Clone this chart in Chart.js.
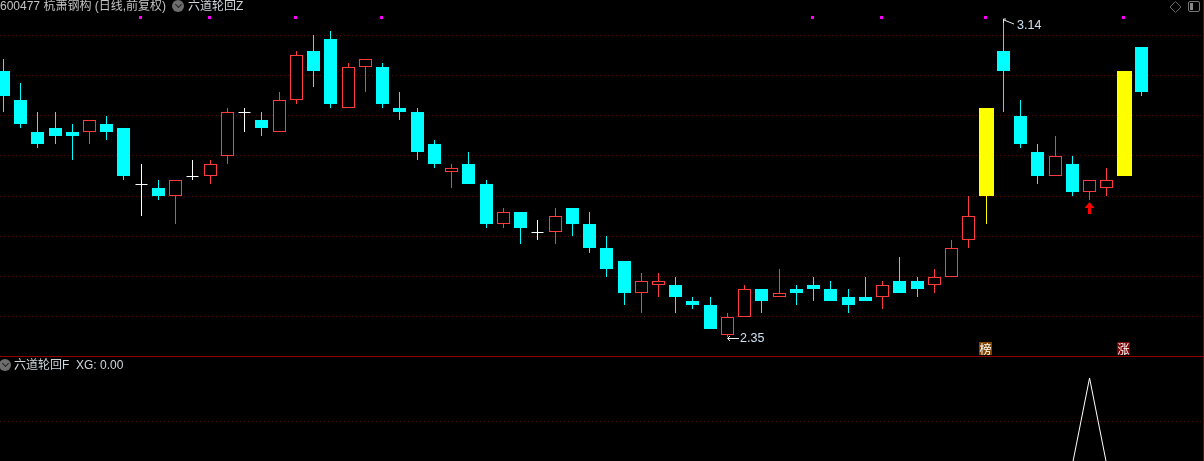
<!DOCTYPE html>
<html><head><meta charset="utf-8">
<script src="https://cdn.jsdelivr.net/npm/chart.js@4/dist/chart.umd.min.js"></script>
<style>
html,body{margin:0;padding:0;background:#000;overflow:hidden}
#wrap{position:relative;width:1204px;height:461px;background:#000}
#top{position:absolute;left:0;top:0;width:1203px;height:356px}
#bot{position:absolute;left:0;top:357px;width:1203px;height:104px}
#sep{position:absolute;left:0;top:356px;width:1204px;height:1px;background:#8c0000}
#edge{position:absolute;left:1203px;top:0;width:1px;height:461px;background:#8c0000}
.t{position:absolute;white-space:nowrap;font:12px "Liberation Sans","Noto Sans CJK SC",sans-serif;line-height:14px;color:#cfd6dc}
.c{position:absolute;width:12px;height:12px;border-radius:50%;background:#6e6e6e}
.c:after{content:"";position:absolute;left:3.5px;top:2px;width:4px;height:4px;border-right:1px solid #222;border-bottom:1px solid #222;transform:rotate(45deg)}
</style></head><body>
<div id="wrap">
<canvas id="top" width="1203" height="356"></canvas><canvas id="bot" width="1203" height="104"></canvas>
<div id="sep"></div><div id="edge"></div>
<div class="t" style="left:0;top:-1px;color:#c4c4c4">600477 杭萧钢构 (日线,前复权)</div>
<div class="c" style="left:172px;top:0px"></div>
<div class="t" style="left:188px;top:-1px">六道轮回Z</div>
<div class="c" style="left:-1px;top:359px"></div>
<div class="t" style="left:14px;top:358px">六道轮回F&nbsp; XG: 0.00</div>
<svg style="position:absolute;left:1168px;top:0" width="36" height="14">
<path d="M7.5 1.5 L13 7 L7.5 12.5 L2 7 Z" fill="none" stroke="#666"/>
<rect x="20.5" y="1.5" width="11" height="10" rx="1.5" fill="none" stroke="#777"/><rect x="22" y="3" width="3" height="7" fill="#888"/>
</svg>
</div>
<script>
const opens=[3.01,2.94,2.86,2.87,2.86,2.86,2.88,2.87,2.73,2.72,2.70,2.75,2.75,2.80,2.91,2.89,2.86,2.94,3.06,3.09,2.92,3.02,3.02,2.92,2.91,2.83,2.76,2.78,2.73,2.63,2.66,2.61,2.61,2.67,2.63,2.57,2.54,2.46,2.48,2.48,2.44,2.43,2.355,2.40,2.47,2.45,2.47,2.48,2.47,2.45,2.45,2.45,2.49,2.49,2.48,2.50,2.59,2.70,3.06,2.90,2.81,2.75,2.78,2.71,2.72,2.75,3.07];
const closes=[2.95,2.88,2.83,2.85,2.85,2.89,2.86,2.75,2.73,2.70,2.74,2.75,2.78,2.91,2.91,2.87,2.94,3.05,3.01,2.93,3.02,3.04,2.93,2.91,2.81,2.78,2.77,2.73,2.63,2.66,2.62,2.61,2.65,2.63,2.57,2.52,2.46,2.49,2.49,2.45,2.43,2.37,2.40,2.47,2.44,2.46,2.46,2.47,2.44,2.43,2.44,2.48,2.46,2.47,2.50,2.57,2.65,2.92,3.01,2.83,2.75,2.80,2.71,2.74,2.74,3.01,2.96];
const highs=[3.04,2.98,2.91,2.91,2.88,2.89,2.90,2.87,2.78,2.74,2.74,2.79,2.79,2.92,2.92,2.91,2.96,3.06,3.10,3.11,3.03,3.04,3.03,2.96,2.92,2.84,2.78,2.81,2.74,2.67,2.66,2.64,2.67,2.67,2.66,2.60,2.54,2.51,2.51,2.50,2.45,2.45,2.41,2.48,2.47,2.52,2.48,2.50,2.49,2.47,2.50,2.49,2.55,2.50,2.52,2.59,2.70,2.92,3.14,2.94,2.83,2.85,2.80,2.74,2.77,3.01,3.07];
const lows=[2.91,2.87,2.82,2.83,2.79,2.83,2.84,2.74,2.65,2.69,2.63,2.74,2.73,2.78,2.86,2.85,2.86,2.93,2.97,2.92,2.92,2.96,2.92,2.89,2.79,2.77,2.72,2.73,2.62,2.62,2.58,2.59,2.58,2.60,2.56,2.50,2.43,2.41,2.45,2.41,2.42,2.37,2.35,2.40,2.41,2.45,2.43,2.44,2.44,2.41,2.44,2.42,2.46,2.45,2.46,2.50,2.57,2.63,2.91,2.82,2.73,2.75,2.70,2.69,2.70,2.75,2.95];
const limitUpDays=[57,65];
const signalDays=[8,12,17,22,47,51,57,65];
const signalLevel=[3.143];
const gridPrices=[3.1,3.0,2.9,2.8,2.7,2.6,2.5,2.4];
const xgValues=[0,0,0,0,0,0,0,0,0,0,0,0,0,0,0,0,0,0,0,0,0,0,0,0,0,0,0,0,0,0,0,0,0,0,0,0,0,0,0,0,0,0,0,0,0,0,0,0,0,0,0,0,0,0,0,0,0,0,0,0,0,0,0,1,0,0,0];
const xgGrid=[0.5];
const highLabel="3.14", lowLabel="2.35";
const arrowDay=63, badges=[{day:57,text:"榜",color:"#7f4500"},{day:65,text:"涨",color:"#7d0000"}];

const CYAN="#00ffff",RED="#ff3c3c",WHITE="#ffffff",YELLOW="#ffff00",GRID="#4c0e0e";
const isLimit=i=>limitUpDays.includes(i);
const kind=i=>isLimit(i)?"limit":closes[i]>opens[i]?"rise":closes[i]<opens[i]?"fall":"doji";
const colorOf={limit:YELLOW,rise:RED,fall:CYAN,doji:WHITE};
const idx=opens.map((_,i)=>i);
const body=k=>idx.filter(i=>kind(i)===k).map(i=>({x:i,y:[opens[i],closes[i]]}));
const xRange={min:-0.191,max:69.58};
Chart.defaults.animation=false;

/* keeps every bar and signal square on whole pixels so that they stay crisp */
const crisp={id:"crisp",beforeDatasetsDraw(c){
 c.data.datasets.forEach((d,n)=>{const m=c.getDatasetMeta(n);
  m.data.forEach(el=>{
   if(m.type==="bar"){
    el.x=Math.floor(el.x)+0.5;
    el.y=Math.round(el.y);el.base=Math.round(el.base);
    if(Math.abs(el.y-el.base)<1)el.base=el.y+1;
   }else{el.x=Math.floor(el.x)-0.5;el.y=Math.floor(el.y)+0.5;}
  });});}};

const notes={id:"notes",afterDatasetsDraw(c){
 const g=c.ctx,X=c.scales.x,Y=c.scales.y;g.save();
 const hi=highs.indexOf(Math.max(...highs)),lo=lows.indexOf(Math.min(...lows));
 g.font='12.5px "Liberation Sans",sans-serif';g.textBaseline="middle";g.textAlign="left";
 // high label
 let x=Math.floor(X.getPixelForValue(hi)),y=Math.round(Y.getPixelForValue(highs[hi]));
 g.strokeStyle="#e8e8e8";g.lineWidth=1;g.beginPath();g.moveTo(x+.5,y+4);g.lineTo(x+.5,y);g.lineTo(x+3,y);g.moveTo(x+1,y+1);g.lineTo(x+11,y+5);g.stroke();
 g.fillStyle="#cfe0ee";g.fillText(highLabel,x+14,y+7);
 // low label
 x=Math.floor(X.getPixelForValue(lo));y=Math.round(Y.getPixelForValue(lows[lo]))+1.5;
 g.beginPath();g.moveTo(x+.5,y);g.lineTo(x+12,y);g.moveTo(x+.5,y);g.lineTo(x+3,y-2.5);g.moveTo(x+.5,y);g.lineTo(x+3,y+2.5);g.stroke();
 g.fillText(lowLabel,x+13,y);
 // buy arrow under the signal day
 x=Math.floor(X.getPixelForValue(arrowDay))+.5;y=Math.round(Y.getPixelForValue(lows[arrowDay]))+2;
 g.fillStyle="#ff0000";g.beginPath();g.moveTo(x,y);g.lineTo(x+5,y+6);g.lineTo(x+1.5,y+6);g.lineTo(x+1.5,y+12);g.lineTo(x-1.5,y+12);g.lineTo(x-1.5,y+6);g.lineTo(x-5,y+6);g.closePath();g.fill();
 // badges on the bottom row
 g.font='12px "Noto Sans CJK SC",sans-serif';g.textAlign="center";
 badges.forEach(b=>{const bx=Math.floor(X.getPixelForValue(b.day))-.5;
  g.fillStyle=b.color;g.fillRect(bx-6.5,342,13,13);
  g.fillStyle="#fff";g.fillText(b.text,bx,349);});
 g.restore();}};

new Chart(document.getElementById("top"),{type:"bar",
 data:{datasets:[
  {label:"wick",data:idx.map(i=>({x:i,y:[lows[i],highs[i]]})),barThickness:1,inflateAmount:0,backgroundColor:idx.map(i=>colorOf[kind(i)]),order:5},
  {label:"fall",data:body("fall"),barThickness:13,inflateAmount:0,backgroundColor:CYAN,order:2},
  {label:"rise",data:body("rise"),barThickness:13,inflateAmount:0,backgroundColor:"#000",borderColor:RED,borderWidth:1,borderSkipped:false,order:2},
  {label:"doji",data:body("doji"),barThickness:12,inflateAmount:0,backgroundColor:WHITE,order:2},
  {label:"limit",data:body("limit"),barThickness:15,inflateAmount:0,backgroundColor:YELLOW,order:2},
  {label:"signal",type:"scatter",data:signalDays.map(i=>({x:i,y:signalLevel[0]})),pointStyle:"rect",pointRadius:2.12,backgroundColor:"#ff00ff",borderWidth:0,order:1}
 ]},
 options:{responsive:false,maintainAspectRatio:false,devicePixelRatio:1,grouped:false,
  layout:{padding:0,autoPadding:false},
  plugins:{legend:{display:false},tooltip:{enabled:false}},
  scales:{
   x:{type:"linear",display:false,offset:false,min:xRange.min,max:xRange.max,grid:{display:false}},
   y:{type:"linear",min:2.30286,max:3.18733,beginAtZero:false,
      ticks:{display:false},border:{display:false,dash:[1,3]},
      grid:{color:GRID,lineWidth:1,drawTicks:false},
      afterBuildTicks(s){s.ticks=gridPrices.map(v=>({value:v}));},
      afterFit(s){s.width=0;}}
  }},
 plugins:[crisp,notes]});

new Chart(document.getElementById("bot"),{type:"line",
 data:{datasets:[{label:"XG",data:xgValues.map((v,i)=>({x:i,y:v})),borderColor:"#ffffff",borderWidth:1,pointRadius:0,tension:0}]},
 options:{responsive:false,maintainAspectRatio:false,devicePixelRatio:1,layout:{padding:0,autoPadding:false},
  plugins:{legend:{display:false},tooltip:{enabled:false}},
  scales:{
   x:{type:"linear",display:false,min:xRange.min,max:xRange.max},
   y:{type:"linear",min:0.046,max:1.241,ticks:{display:false},border:{display:false,dash:[1,3]},
      grid:{color:GRID,lineWidth:1,drawTicks:false},
      afterBuildTicks(s){s.ticks=xgGrid.map(v=>({value:v}));},
      afterFit(s){s.width=0;}}
  }}});
</script>
</body></html>
